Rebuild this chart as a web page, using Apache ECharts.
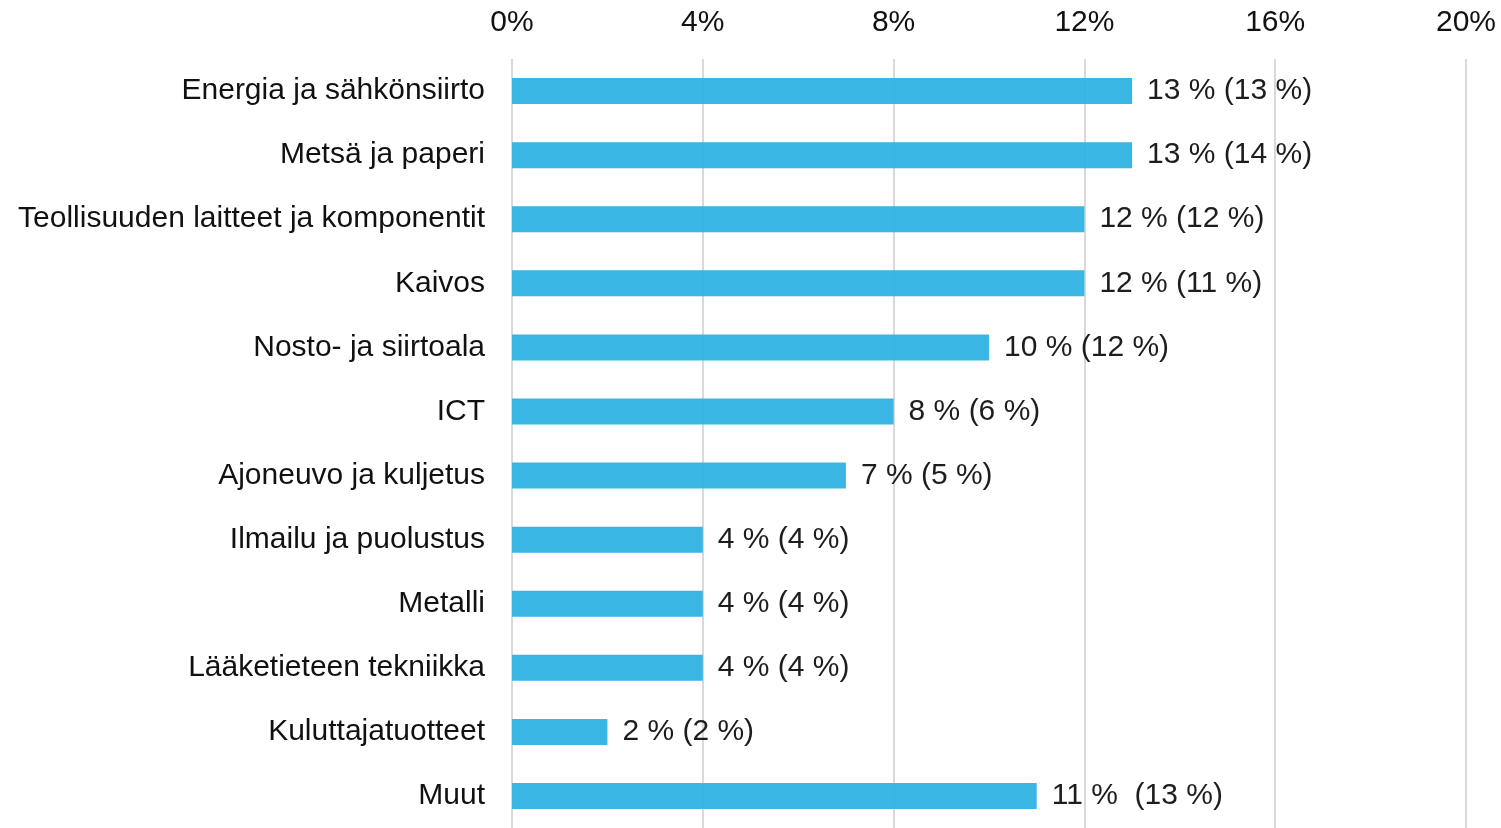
<!DOCTYPE html>
<html>
<head>
<meta charset="utf-8">
<script src="https://cdn.jsdelivr.net/npm/echarts@6/dist/echarts.min.js"></script>
<style>
html,body{margin:0;padding:0;background:#fff;}
#chart{width:1501px;height:828px;}
</style>
</head>
<body>
<div id="chart"></div>
<script>
const categories = [
  "Energia ja sähkönsiirto",
  "Metsä ja paperi",
  "Teollisuuden laitteet ja komponentit",
  "Kaivos",
  "Nosto- ja siirtoala",
  "ICT",
  "Ajoneuvo ja kuljetus",
  "Ilmailu ja puolustus",
  "Metalli",
  "Lääketieteen tekniikka",
  "Kuluttajatuotteet",
  "Muut"
];
const values = [13, 13, 12, 12, 10, 8, 7, 4, 4, 4, 2, 11];
const valueLabels = [
  "13 % (13 %)",
  "13 % (14 %)",
  "12 % (12 %)",
  "12 % (11 %)",
  "10 % (12 %)",
  "8 % (6 %)",
  "7 % (5 %)",
  "4 % (4 %)",
  "4 % (4 %)",
  "4 % (4 %)",
  "2 % (2 %)",
  "11 %  (13 %)"
];
const tickValues = [0, 4, 8, 12, 16, 20];

const chart = echarts.init(document.getElementById('chart'), null, {renderer: 'canvas'});
const font = '"Liberation Sans", Arial, sans-serif';
chart.setOption({
  animation: false,
  backgroundColor: '#ffffff',
  grid: {left: 512, right: 35, top: 59, height: 773, containLabel: false},
  xAxis: {
    type: 'value',
    position: 'top',
    min: tickValues[0], max: tickValues[tickValues.length - 1], interval: tickValues[1] - tickValues[0],
    axisLine: {show: false},
    axisTick: {show: false},
    axisLabel: {
      formatter: v => v + '%',
      color: '#111111',
      fontFamily: font,
      fontSize: 30,
      margin: 21
    },
    splitLine: {show: true, lineStyle: {color: '#d9d9d9', width: 2}}
  },
  yAxis: {
    type: 'category',
    inverse: true,
    data: categories,
    axisLine: {show: false},
    axisTick: {show: false},
    axisLabel: {
      color: '#111111',
      fontFamily: font,
      fontSize: 30,
      margin: 27,
      padding: [3, 0, 0, 0]
    }
  },
  series: [{
    type: 'bar',
    data: values,
    barWidth: 26,
    itemStyle: {color: '#2fb2e4', opacity: 0.95},
    label: {
      show: true,
      position: 'right',
      distance: 15,
      color: '#111111',
      fontFamily: font,
      fontSize: 30,
      padding: [4, 0, 0, 0],
      formatter: p => valueLabels[p.dataIndex]
    }
  }]
});
</script>
</body>
</html>
